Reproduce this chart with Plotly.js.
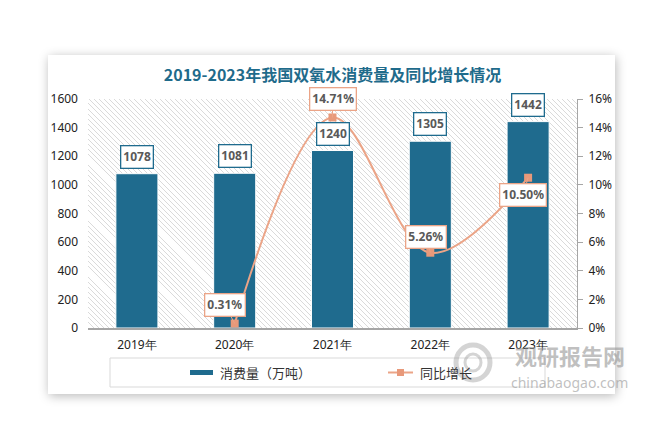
<!DOCTYPE html>
<html><head><meta charset="utf-8">
<script src="https://cdn.plot.ly/plotly-3.0.1.min.js"></script>
<style>
html,body{margin:0;padding:0;background:#fff;width:670px;height:445px;overflow:hidden;}
#card{position:absolute;left:48px;top:55px;width:567px;height:339px;background:#fff;box-shadow:1px 2px 10px rgba(0,0,0,0.28);}
#hatch{position:absolute;left:88px;top:99px;width:489px;height:229px;
background:repeating-linear-gradient(45deg,#dadada 0px,#dadada 0.7px,#ffffff 0.7px,#ffffff 3.6px);}
#chart{position:absolute;left:0;top:0;width:670px;height:445px;}
</style></head>
<body>
<div id="card"></div>
<div id="hatch"></div>
<div id="chart"></div>
<script>
// ---- data ----
const years = ['2019年','2020年','2021年','2022年','2023年'];
const consumption = [1078, 1081, 1240, 1305, 1442];   // 万吨
const growthYears = ['2020年','2021年','2022年','2023年'];
const growth = [0.31, 14.71, 5.26, 10.50];            // %
const growthLabels = ['0.31%','14.71%','5.26%','10.50%'];
const titleText = '2019-2023年我国双氧水消费量及同比增长情况';
const legendNames = ['消费量（万吨）','同比增长'];

// ---- style ----
const barColor = '#1f6b8e';
const lineColor = '#eba487';
const markColor = '#e8997a';
const cjk = '"Noto Sans CJK SC", "Noto Sans", sans-serif';
const num = '"Noto Sans", "Liberation Sans", sans-serif';

const L = 88, R = 577, T = 99, B = 328;
const px = x => (x - L) / (R - L);
const py = y => (B - y) / (B - T);

const traces = [
  {type:'bar', x: years, y: consumption, name: legendNames[0], width: 0.43,
   marker:{color: barColor, line:{color:'#ffffff', width:1}}, hoverinfo:'skip'},
  {type:'scatter', mode:'lines+markers', x: growthYears, y: growth, yaxis:'y2', name: legendNames[1],
   line:{color: lineColor, width:2, shape:'spline', smoothing:1},
   marker:{symbol:'square', size:8, color: markColor}, hoverinfo:'skip'}
];

const annotations = [];
consumption.forEach((v, i) => {
  annotations.push({x: years[i], y: v, xref:'x', yref:'y', text: String(v), showarrow:false,
    yanchor:'bottom', yshift:5, bgcolor:'#ffffff', bordercolor: barColor, borderwidth:1.3, borderpad:2,
    font:{family:num, size:12, color:'#595959', weight:'bold'}});
});
const offs = [[-10,-19],[0,-18],[-4,-16],[-5,17]];
growth.forEach((v, i) => {
  annotations.push({x: growthYears[i], y: v, xref:'x', yref:'y2', text: growthLabels[i], showarrow:true,
    arrowhead:0, arrowwidth:1, arrowcolor: lineColor, ax: offs[i][0], ay: offs[i][1],
    bgcolor:'#ffffff', bordercolor: lineColor, borderwidth:1.3, borderpad:2,
    font:{family:num, size:12, color:'#595959', weight:'bold'}});
});
// legend texts
annotations.push({xref:'paper', yref:'paper', x: px(218), y: py(372.5), xanchor:'left', yanchor:'middle',
  text: legendNames[0], showarrow:false, font:{family:cjk, size:13, color:'#333333'}});
annotations.push({xref:'paper', yref:'paper', x: px(418), y: py(372.5), xanchor:'left', yanchor:'middle',
  text: legendNames[1], showarrow:false, font:{family:cjk, size:13, color:'#333333'}});
// watermark
annotations.push({xref:'paper', yref:'paper', x: px(570), y: py(355), xanchor:'center', yanchor:'middle',
  text:'观研报告网', showarrow:false, font:{family:cjk, size:22, color:'rgba(150,150,150,0.6)', weight:'bold'}});
annotations.push({xref:'paper', yref:'paper', x: px(569), y: py(382), xanchor:'center', yanchor:'middle',
  text:'chinabaogao.com', showarrow:false, font:{family:num, size:14, color:'rgba(150,150,150,0.6)'}});

const shapes = [
  {type:'rect', xref:'paper', yref:'paper', x0: px(110), x1: px(545), y0: py(358), y1: py(387),
   line:{color:'#d9d9d9', width:1}, fillcolor:'rgba(0,0,0,0)'},
  {type:'rect', xref:'paper', yref:'paper', x0: px(190), x1: px(213), y0: py(370), y1: py(375),
   line:{width:0}, fillcolor: barColor},
  {type:'line', xref:'paper', yref:'paper', x0: px(388), x1: px(413), y0: py(372.5), y1: py(372.5),
   line:{color: lineColor, width:2}},
  {type:'rect', xref:'paper', yref:'paper', x0: px(397), x1: px(404), y0: py(369), y1: py(376),
   line:{width:0}, fillcolor: markColor},
  // watermark logo
  {type:'circle', xref:'paper', yref:'paper', x0: px(456), x1: px(490), y0: py(345), y1: py(380),
   line:{color:'rgba(160,160,160,0.45)', width:5}, fillcolor:'rgba(0,0,0,0)'},
  {type:'circle', xref:'paper', yref:'paper', x0: px(465), x1: px(481), y0: py(354), y1: py(371),
   line:{color:'rgba(160,160,160,0.45)', width:3}, fillcolor:'rgba(0,0,0,0)'}
];

const layout = {
  width:670, height:445,
  margin:{l:L, r:670-R, t:T, b:445-B, pad:0},
  paper_bgcolor:'rgba(0,0,0,0)', plot_bgcolor:'rgba(0,0,0,0)',
  showlegend:false,
  title:{text: titleText, x:0.5, xref:'paper', xanchor:'center', y: 1-75/445, yanchor:'middle',
    font:{family:cjk, size:16, color:'#1f6b8b', weight:'bold'}},
  xaxis:{type:'category', showline:true, linecolor:'#a6a6a6', linewidth:1.5, ticks:'', showgrid:false,
    tickfont:{family:num, size:12, color:'#222222'}, ticklabelstandoff:5},
  yaxis:{range:[0,1600], dtick:200, showgrid:false, zeroline:false, showline:false, ticks:'',
    tickfont:{family:num, size:12, color:'#222222'}, ticklabelstandoff:9},
  yaxis2:{overlaying:'y', side:'right', range:[0,16], dtick:2, ticksuffix:'%', showgrid:false, zeroline:false,
    showline:true, linecolor:'#a6a6a6', linewidth:1, ticks:'outside', ticklen:5, tickcolor:'#a6a6a6',
    tickfont:{family:num, size:12, color:'#222222'}, ticklabelstandoff:3},
  annotations: annotations,
  shapes: shapes
};
Plotly.newPlot('chart', traces, layout, {displayModeBar:false, staticPlot:true});
</script>
</body></html>
